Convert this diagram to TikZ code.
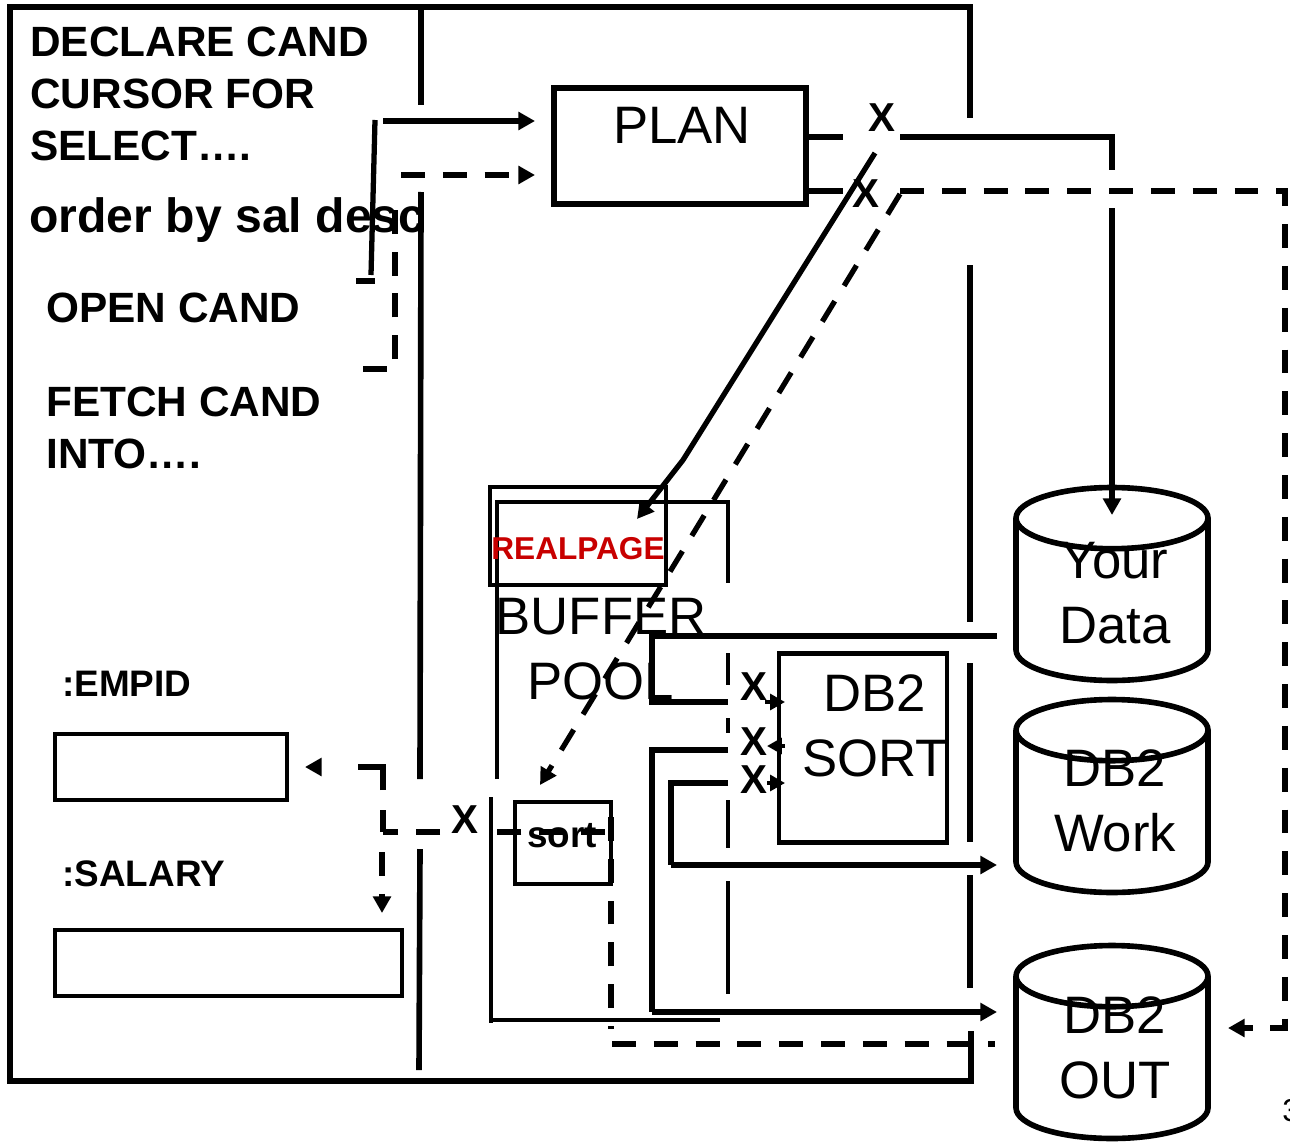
\documentclass[tikz,border=0pt]{standalone}
\usepackage{fontspec}
\setmainfont{Liberation Sans}
\usetikzlibrary{arrows.meta,shapes.geometric}
\definecolor{realred}{HTML}{C80000}
\begin{document}
\begin{tikzpicture}[
    x=0.02cm, y=-0.02cm,
    caja/.style={rectangle, draw=black, line width=2.4pt, inner sep=0pt, minimum width=#1},
    disco/.style={cylinder, shape border rotate=90, shape aspect=0.34, draw=black, line width=3.2pt, minimum width=3.84cm, minimum height=3.86cm, inner xsep=1.8cm, inner ysep=0pt, anchor=shape center},
    codigo/.style={anchor=north west, align=left, inner sep=0pt, font=\bfseries\fontsize{24.1}{29.5}\selectfont},
    varhost/.style={anchor=base west, inner sep=0pt, font=\bfseries\fontsize{21}{25}\selectfont},
    grande/.style={align=center, inner sep=0pt, font=\fontsize{30}{36.9}\selectfont},
    cruz/.style={inner sep=0pt, font=\bfseries\fontsize{23}{28}\selectfont},
    linea/.style={line width=3pt, black},
    borde/.style={line width=3.2pt, black},
    rayas/.style={line width=3pt, black, dash pattern=on 13.6pt off 10.2pt},
    flecha/.style={-{Triangle[length=9.5pt,width=10pt]}},
    flechita/.style={line width=2pt, -{Triangle[length=8.5pt,width=9pt]}},
]
\useasboundingbox (0,0) rectangle (1290,1142);

% memory frame
\draw [borde] (970,118) -- (970,7) -- (10,7) -- (10,1081) -- (971,1081) -- (971,1031);
\draw [borde] (970,265) -- (970,622);
\draw [borde] (970,663) -- (970,842);
\draw [borde] (970,875) -- (970,988);
\draw [borde] (421,7) -- (421,105);
\draw [borde] (421,192) -- (420,779);
\draw [borde] (420,849) -- (419,1070);

% program text
\node (declare) [codigo] at (30,27) {DECLARE CAND\\CURSOR FOR\\SELECT….};
\node (orderby) [anchor=base west, inner sep=0pt, font=\bfseries\fontsize{27.4}{32}\selectfont] at (29,233) {order by sal desc};
\node (opencand) [codigo] at (46,293) {OPEN CAND};
\node (fetchcand) [codigo] at (46,387) {FETCH CAND\\INTO….};
\node (empid) [varhost] at (62,696) {:EMPID};
\node (salary) [varhost] at (62,886) {:SALARY};
\node (empidbox) [caja=4.64cm, minimum height=1.32cm] at (171,767) {};
\node (salarybox) [caja=6.94cm, minimum height=1.32cm] at (228.5,963) {};

% plan
\node (plan) [caja=5.04cm, minimum height=2.32cm, line width=3pt] at (680,146) {};
\node (plantext) [grande] at (682,125) {PLAN};
\node (xplan) [cruz] at (882,118) {X};
\node (xplandash) [cruz] at (866,194) {X};

% buffer pool
\draw [line width=2.3pt] (497,779) -- (497,502) -- (728,502) -- (728,583);
\draw [line width=2.3pt] (728,653) -- (728,685);
\draw [line width=2.3pt] (728,718) -- (728,733);
\draw [line width=2.3pt] (728,800) -- (728,848);
\draw [line width=2.3pt] (728,881) -- (728,994);
\draw [line width=2.3pt] (491,797) -- (491,1023);
\draw [line width=2.3pt] (491,1020) -- (720,1020);
\node (realpage) [caja=3.52cm, minimum height=1.96cm] at (578,536) {};
\node (realtext) [inner sep=0pt, text=realred, font=\bfseries\fontsize{18}{21}\selectfont] at (578,549) {REALPAGE};
\node (buffer) [grande] at (601,649) {BUFFER\\POOL};
\node (sortbox) [caja=1.92cm, minimum height=1.64cm] at (563,843) {};
\node (sorttext) [inner sep=0pt, font=\bfseries\fontsize{21}{25}\selectfont] at (562,836) {sort};
\node (xsort) [cruz] at (465,820) {X};

% db2 sort
\node (db2sort) [caja=3.36cm, minimum height=3.78cm] at (863,748) {};
\node (db2text) [grande] at (875,726) {DB2\\SORT};
\node (xuno) [cruz] at (754,687) {X};
\node (xdos) [cruz] at (754,742) {X};
\node (xtres) [cruz] at (754,780) {X};

% disks
\node (yourdata) [disco] at (1112,584) {};
\node (yourtext) [grande] at (1115,593) {Your\\Data};
\node (db2work) [disco] at (1112,796) {};
\node (worktext) [grande] at (1115,801) {DB2\\Work};
\node (db2out) [disco] at (1112,1042) {};
\node (outtext) [grande] at (1115,1048) {DB2\\OUT};
\node (pagina) [anchor=base west, inner sep=0pt, font=\fontsize{18}{22}\selectfont] at (1282,1121) {3};

% free ends
\coordinate (progsolid) at (383,121);
\coordinate (progdash) at (401,175);
\coordinate (planleftsolid) at (535,121);
\coordinate (planleftdash) at (535,175);
\coordinate (dataentra) at (1112,515);
\coordinate (workentra) at (997,865);
\coordinate (outentra) at (997,1012);
\coordinate (dataorigen) at (997,636);
\coordinate (outdash) at (1228,1028);
\coordinate (esquina) at (383,832);

% program to plan
\draw [linea] (375,120) -- (371,275);
\draw [linea] (356,281) -- (375,281);
\draw [linea, flecha] (progsolid) -- (planleftsolid);
\draw [rayas] (363,369) -- (395,369) -- (395,207);
\draw [rayas, flecha] (progdash) -- (planleftdash);

% plan to data
\draw [linea] (plan.east |- 0,137) -- (843,137);
\draw [linea] (900,137) -- (1112,137) -- (1112,170);
\draw [linea, flecha] (1112,208) -- (dataentra);
\draw [linea] (plan.east |- 0,191) -- (843,191);
\draw [rayas, flecha] (900,191) -- (1285,191) -- (1285,1028) -- (outdash);

% plan to buffer pool
\draw [linea, flecha] (875,153) -- (683,460) -- (637,519);
\draw [rayas, flecha] (900,194) -- (540,785);

% sort work
\draw [linea, line width=3.4pt] (dataorigen) -- (652,636) -- (652,702) -- (728,702);
\draw [linea] (728,750) -- (652,750) -- (652,1012);
\draw [linea, flecha] (652,1012) -- (outentra);
\draw [linea] (728,783) -- (671,783) -- (671,865);
\draw [linea, flecha] (671,865) -- (workentra);
\draw [flechita] (765,702) -- (785,702);
\draw [flechita] (785,746) -- (767,746);
\draw [flechita] (767,783) -- (785,783);

% sort to host variables
\draw [rayas] (612,1044) -- (995,1044);
\draw [rayas, dash phase=11.9pt] (611,1029) -- (611,816);
\draw [rayas] (605,832) -- (497,832);
\draw [rayas] (440,832) -- (esquina);
\draw [linea, flecha, dash pattern=on 12.5pt off 11.3pt on 27.2pt off 60pt] (esquina) -- (383,767) -- (305,767);
\draw [rayas, flecha] (382,852) -- (382,913);

\end{tikzpicture}
\end{document}
